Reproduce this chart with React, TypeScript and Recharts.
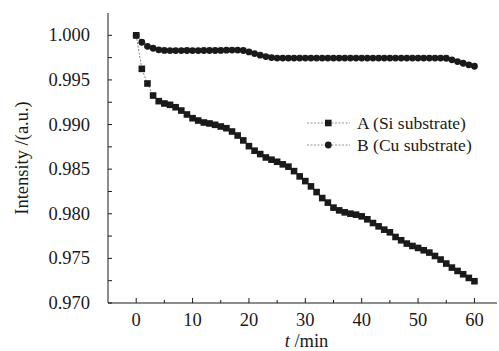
import { LineChart, Line, XAxis, YAxis } from "recharts";

const times = [
  0, 1, 2, 3, 4, 5, 6, 7, 8, 9, 10, 11, 12, 13, 14, 15, 16, 17, 18, 19, 20,
  21, 22, 23, 24, 25, 26, 27, 28, 29, 30, 31, 32, 33, 34, 35, 36, 37, 38, 39,
  40, 41, 42, 43, 44, 45, 46, 47, 48, 49, 50, 51, 52, 53, 54, 55, 56, 57, 58,
  59, 60,
];

const siSubstrate = [
  1.0, 0.99624, 0.9946, 0.99325, 0.99262, 0.99236, 0.99221, 0.99194, 0.99157,
  0.99113, 0.99071, 0.99045, 0.99023, 0.99012, 0.98997, 0.98978, 0.98959,
  0.98922, 0.98877, 0.98822, 0.98758, 0.98707, 0.98669, 0.98631, 0.98606,
  0.98583, 0.98554, 0.98528, 0.98478, 0.98419, 0.98366, 0.98307, 0.98243,
  0.98176, 0.98125, 0.98069, 0.98038, 0.98016, 0.98001, 0.9799, 0.97971,
  0.97938, 0.97896, 0.97859, 0.97822, 0.97792, 0.9774, 0.97703, 0.97666,
  0.97639, 0.97617, 0.97591, 0.97565, 0.97527, 0.97487, 0.97442, 0.97397,
  0.97359, 0.97322, 0.97281, 0.97244,
];

const cuSubstrate = [
  1.0, 0.99922, 0.99877, 0.99855, 0.99837, 0.99831, 0.99829, 0.99829, 0.99829,
  0.9983, 0.99829, 0.99829, 0.9983, 0.9983, 0.9983, 0.99831, 0.99833, 0.99835,
  0.99835, 0.9983, 0.99814, 0.99795, 0.99777, 0.99762, 0.99751, 0.99745,
  0.99745, 0.99745, 0.99745, 0.99745, 0.99745, 0.99745, 0.99745, 0.99745,
  0.99745, 0.99745, 0.99745, 0.99745, 0.99745, 0.99745, 0.99745, 0.99745,
  0.99745, 0.99745, 0.99745, 0.99745, 0.99745, 0.99745, 0.99745, 0.99745,
  0.99745, 0.99745, 0.99745, 0.99745, 0.99745, 0.99743, 0.99725, 0.99706,
  0.99687, 0.99669, 0.99653,
];

const xTicks = [0, 5, 10, 15, 20, 25, 30, 35, 40, 45, 50, 55, 60];
const yTicks = [
  0.97, 0.9725, 0.975, 0.9775, 0.98, 0.9825, 0.985, 0.9875, 0.99, 0.9925,
  0.995, 0.9975, 1.0,
];

const data = times.map((t, i) => ({ t, a: siSubstrate[i], b: cuSubstrate[i] }));

const INK = "#1a1a1a";
const FS = 18.5;
const serif = { fontFamily: "Liberation Serif" };

const SquareDot = (props: any) => {
  const { cx, cy } = props;
  if (cx == null || cy == null) return null;
  return <rect x={cx - 3.3} y={cy - 3.3} width={6.6} height={6.6} fill={INK} />;
};

const CircleDot = (props: any) => {
  const { cx, cy } = props;
  if (cx == null || cy == null) return null;
  return <circle cx={cx} cy={cy} r={3.4} fill={INK} />;
};

const XTick = (props: any) => {
  const { x, y, payload } = props;
  const major = payload.value % 10 === 0;
  const axisY = y - 10;
  return (
    <g>
      <line x1={x} x2={x} y1={axisY} y2={axisY - (major ? 5 : 3)} stroke={INK} />
      {major && (
        <text x={x} y={y} dy="0.7em" textAnchor="middle" style={serif} fontSize={FS} fill={INK}>
          {payload.value}
        </text>
      )}
    </g>
  );
};

const YTick = (props: any) => {
  const { x, y, payload } = props;
  const major = Math.round(payload.value * 1000) % 5 === 0;
  const axisX = x + 18;
  return (
    <g>
      <line x1={axisX} x2={axisX + 4} y1={y} y2={y} stroke={INK} />
      {major && (
        <text x={x} y={y} dy="0.33em" textAnchor="end" style={serif} fontSize={FS} fill={INK}>
          {payload.value.toFixed(3)}
        </text>
      )}
    </g>
  );
};

const legendRows = [
  { label: "A (Si substrate)", kind: "square", y: 11 },
  { label: "B (Cu substrate)", kind: "circle", y: 33 },
];

const LegendBox = () => (
  <svg width={190} height={46} style={{ display: "block" }}>
    {legendRows.map((row) => (
      <g key={row.label}>
        <line x1={2} x2={45} y1={row.y} y2={row.y} stroke="#777" strokeWidth={0.8} strokeDasharray="2 1.5" />
        {row.kind === "square" ? (
          <rect x={20} y={row.y - 3.3} width={6.6} height={6.6} fill={INK} />
        ) : (
          <circle cx={23.3} cy={row.y} r={3.4} fill={INK} />
        )}
        <text x={52} y={row.y} dy="0.33em" style={serif} fontSize={17.5} fill={INK}>
          {row.label}
        </text>
      </g>
    ))}
  </svg>
);

export default function App() {
  return (
    <div style={{ position: "absolute", left: 0, top: 0, width: 499, height: 351, background: "#fff" }}>
      <LineChart
        width={499}
        height={351}
        data={data}
        margin={{ top: 13, right: 2, left: 0, bottom: 0 }}
      >
        <XAxis
          xAxisId="top"
          dataKey="t"
          type="number"
          orientation="top"
          domain={[-5, 64]}
          allowDataOverflow
          height={0}
          tick={false}
          tickLine={false}
          stroke={INK}
        />
        <YAxis
          yAxisId="right"
          type="number"
          orientation="right"
          domain={[0.97, 1.0025]}
          allowDataOverflow
          width={0}
          tick={false}
          tickLine={false}
          stroke={INK}
        />
        <XAxis
          dataKey="t"
          type="number"
          domain={[-5, 64]}
          ticks={xTicks}
          allowDataOverflow
          stroke={INK}
          tickLine={false}
          tickSize={0}
          tickMargin={10}
          tick={<XTick />}
          height={48}
          interval={0}
          label={({ viewBox }: any) => (
            <text
              x={viewBox.x + viewBox.width / 2 + 4}
              y={347}
              textAnchor="middle"
              style={serif}
              fontSize={FS}
              fill={INK}
            >
              <tspan fontStyle="italic">t</tspan>
              <tspan> /min</tspan>
            </text>
          )}
        />
        <YAxis
          type="number"
          domain={[0.97, 1.0025]}
          ticks={yTicks}
          allowDataOverflow
          stroke={INK}
          tickLine={false}
          tickSize={0}
          tickMargin={18}
          tick={<YTick />}
          width={108}
          interval={0}
          label={({ viewBox }: any) => {
            const cy = viewBox.y + viewBox.height / 2;
            return (
              <text
                x={22}
                y={cy}
                transform={`rotate(-90, 22, ${cy})`}
                textAnchor="middle"
                dy="0.33em"
                style={serif}
                fontSize={FS}
                fill={INK}
              >
                Intensity /(a.u.)
              </text>
            );
          }}
        />
        <Line
          dataKey="a"
          stroke="#666"
          strokeWidth={0.8}
          strokeDasharray="2 1.5"
          dot={<SquareDot />}
          activeDot={false}
          isAnimationActive={false}
        />
        <Line
          dataKey="b"
          stroke="#666"
          strokeWidth={0.8}
          strokeDasharray="2 1.5"
          dot={<CircleDot />}
          activeDot={false}
          isAnimationActive={false}
        />
      </LineChart>
      <div style={{ position: "absolute", left: 305, top: 112 }}>
        <LegendBox />
      </div>
    </div>
  );
}
